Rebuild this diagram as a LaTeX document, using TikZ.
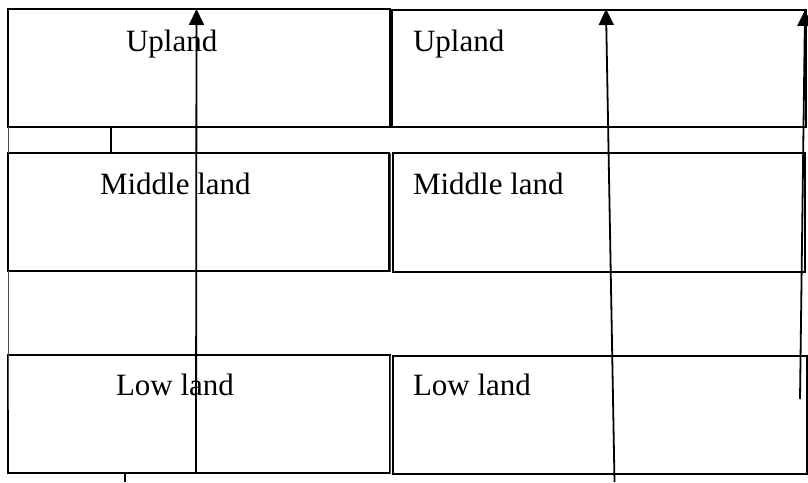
\documentclass[tikz,border=0pt]{standalone}
\usepackage{fontspec}
\setmainfont{Liberation Serif}
\usetikzlibrary{arrows.meta}
\begin{document}
\begin{tikzpicture}[x=1pt,y=-1pt,
  box/.style={draw=black,line width=1.4pt,rectangle,inner sep=0pt,outer sep=0pt,anchor=north west},
  thinline/.style={draw=black!70,line width=0.9pt},
  lbl/.style={inner sep=0pt,outer sep=0pt,anchor=base west,font=\fontsize{31}{36}\selectfont},
  uparrow/.style={line width=1.8pt,-{Triangle[length=16pt,width=15pt]}}]
\useasboundingbox (0,0) rectangle (808,482);
% left column
\node[box,minimum width=382pt,minimum height=118pt] (u1) at (8,9) {};
\node[box,minimum width=381pt,minimum height=118pt] (m1) at (8,153) {};
\node[box,minimum width=382pt,minimum height=118pt] (l1) at (8,355) {};
% right column
\node[box,minimum width=414pt,minimum height=117pt] (u2) at (392,10) {};
\node[box,minimum width=412pt,minimum height=119pt] (m2) at (393,153) {};
\node[box,minimum width=414pt,minimum height=118pt] (l2) at (393,356) {};
% thickened / doubled left edges of right column
\draw[line width=1.6pt] (u2.north west) -- (u2.south west);
\draw[thinline] ([xshift=-2.5pt]m2.north west) -- ([xshift=-2.5pt]m2.south west);
\draw[thinline] ([xshift=-2.5pt]l2.north west) -- ([xshift=-2.5pt]l2.south west);
% strip between upland and middle land (left)
\coordinate (s1) at (111,127);
\coordinate (s2) at (111,153);
\draw[line width=1.4pt] (s1) -- (s2);
\draw[thinline] (u1.south west) -- (m1.north west);
\coordinate (g1) at (8,410);
\draw[thinline] (m1.south west) -- (g1);
% labels
\node[lbl] (tu1) at (126,51) {Upland};
\node[lbl] (tu2) at (413,51) {Upland};
\node[lbl] (tm1) at (100,194) {Middle land};
\node[lbl] (tm2) at (413,194) {Middle land};
\node[lbl] (tl1) at (116,395) {Low land};
\node[lbl] (tl2) at (413,395) {Low land};
% arrows
\coordinate (a1s) at (196,473);
\coordinate (a1e) at (196.5,9);
\coordinate (a2s) at (614.5,482);
\coordinate (a2e) at (606,9);
\coordinate (a3s) at (800,399);
\coordinate (a3e) at (805,10);
\draw[uparrow] (a1s) -- (a1e);
\draw[uparrow] (a2s) -- (a2e);
\draw[uparrow] (a3s) -- (a3e);
% bottom stub
\coordinate (b1) at (125,473);
\coordinate (b2) at (125,482);
\draw[line width=1.4pt] (b1) -- (b2);
\end{tikzpicture}
\end{document}
